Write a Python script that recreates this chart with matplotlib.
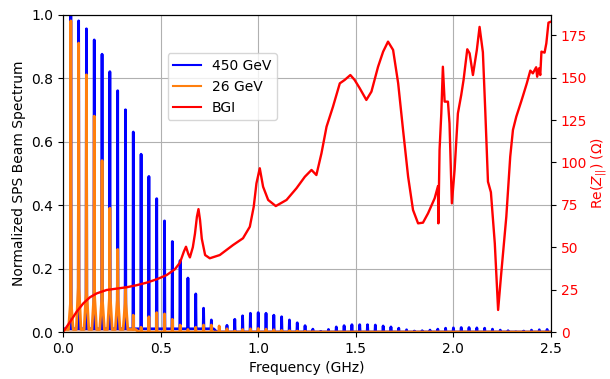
import numpy as np
import matplotlib
matplotlib.use("Agg")
import matplotlib.pyplot as plt
from matplotlib.lines import Line2D

# beam spectrum lines every 40 MHz (harmonics 1..62)
harmonic = np.arange(1, 63)
f_rf = 0.04  # GHz

spec_450 = [1.00, 0.98, 0.955, 0.92, 0.875, 0.82, 0.76, 0.70, 0.63, 0.56,
            0.49, 0.42, 0.35, 0.285, 0.225, 0.17, 0.12, 0.075, 0.038, 0.005,
            0.021, 0.040, 0.051, 0.059, 0.061, 0.059, 0.053, 0.048, 0.038, 0.029,
            0.020, 0.009, 0.002, 0.008, 0.016, 0.020, 0.023, 0.023, 0.023, 0.022,
            0.019, 0.016, 0.012, 0.007, 0.003, 0.004, 0.006, 0.009, 0.012, 0.013,
            0.014, 0.014, 0.013, 0.012, 0.009, 0.006, 0.004, 0.001, 0.003, 0.006,
            0.007, 0.008]

spec_26 = [0.98, 0.91, 0.81, 0.68, 0.54, 0.39, 0.26, 0.14, 0.053, 0.015,
           0.048, 0.061, 0.057, 0.040, 0.022, 0.008, 0.015, 0.022, 0.022, 0.019,
           0.010, 0.003, 0.008, 0.010, 0.011, 0.009, 0.007, 0.005, 0.004, 0.003,
           0.002, 0.001] + [0.0] * 30

# broad pale skirts under the first 26 GeV lines
skirt_26 = [0.09, 0.14, 0.12, 0.11, 0.10, 0.11, 0.10, 0.09]

bgi_freq = [0.000, 0.037, 0.070, 0.104, 0.138, 0.173, 0.224, 0.275, 0.326, 0.377,
            0.428, 0.480, 0.531, 0.573, 0.599, 0.619, 0.630, 0.642, 0.650, 0.665,
            0.676, 0.686, 0.694, 0.702, 0.711, 0.728, 0.752, 0.803, 0.871, 0.922,
            0.957, 0.977, 0.991, 1.008, 1.025, 1.051, 1.090, 1.145, 1.196, 1.239,
            1.273, 1.298, 1.324, 1.350, 1.383, 1.418, 1.443, 1.472, 1.494, 1.520,
            1.554, 1.580, 1.614, 1.640, 1.665, 1.691, 1.717, 1.742, 1.768, 1.793,
            1.819, 1.844, 1.870, 1.904, 1.921, 1.923, 1.929, 1.938, 1.946, 1.955,
            1.972, 1.980, 1.992, 2.006, 2.023, 2.040, 2.052, 2.071, 2.083, 2.100,
            2.120, 2.134, 2.151, 2.163, 2.177, 2.192, 2.212, 2.229, 2.245, 2.271,
            2.291, 2.305, 2.322, 2.347, 2.356, 2.376, 2.394, 2.407, 2.424, 2.429,
            2.438, 2.445, 2.451, 2.467, 2.476, 2.487, 2.500]
bgi_re = [0.0, 6.1, 12.0, 16.9, 20.5, 22.8, 24.8, 25.6, 26.4, 27.6,
          29.1, 31.1, 33.6, 37.0, 40.9, 47.4, 50.3, 46.0, 44.0, 50.0,
          58.0, 68.0, 72.5, 66.0, 55.0, 45.4, 43.5, 45.4, 51.3, 55.3,
          62.1, 73.9, 87.7, 96.6, 85.7, 77.9, 74.3, 77.9, 84.8, 91.6,
          95.6, 92.6, 105.4, 121.1, 132.9, 146.7, 148.7, 151.6, 148.7, 143.8,
          136.9, 141.8, 156.5, 165.4, 171.3, 166.4, 146.7, 119.2, 91.6, 72.0,
          64.1, 64.5, 70.0, 78.9, 86.1, 64.1, 107.4, 129.0, 156.5, 135.9,
          135.9, 123.1, 75.9, 95.6, 129.0, 139.8, 148.7, 166.8, 164.4, 151.6,
          166.4, 180.0, 165.0, 131.0, 88.7, 82.5, 52.3, 13.0, 34.6, 68.0,
          103.4, 119.2, 127.0, 135.9, 139.2, 146.7, 154.2, 152.6, 156.2, 150.6,
          155.5, 151.6, 165.4, 164.8, 170.3, 182.5, 183.1]


def spectrum_path(freqs, peaks, floor, skirt=None):
    xs, ys = [0.0], [floor[0]]
    for i, (f, h) in enumerate(zip(freqs, peaks)):
        s = skirt[i] if skirt is not None and i < len(skirt) else floor[i]
        xs += [f - 0.012, f - 0.002, f, f + 0.002, f + 0.012]
        ys += [floor[i], s, h, s, floor[i]]
    return np.array(xs), np.array(ys)


freqs = harmonic * f_rf
floor_450 = np.where(freqs < 0.8, 0.010, 0.0)
floor_26 = np.where(freqs < 0.4, 0.008, 0.0)

fig = plt.figure(figsize=(6.1, 3.79), dpi=100)
ax = fig.add_axes([0.1033, 0.124, 0.8, 0.8377])
ax2 = ax.twinx()

x450, y450 = spectrum_path(freqs, spec_450, floor_450)
x26, y26 = spectrum_path(freqs, spec_26, floor_26, skirt_26)

ax.plot(x450, y450, color='blue', lw=2)
ax.fill_between(x26, y26, color='#ff7f0e', alpha=0.35, lw=0)
ax.plot(x26, y26, color='#ff7f0e', lw=2)

ax2.plot(bgi_freq, bgi_re, color='red', lw=1.7)

ax.set_xlim(0, 2.5)
ax.set_ylim(0, 1.0)
ax2.set_ylim(0, 187.3)
ax.set_xlabel("Frequency (GHz)")
ax.set_ylabel("Normalized SPS Beam Spectrum")
ax2.set_ylabel(r"Re($Z_{||}$) ($\Omega$)", color='red', labelpad=2)
ax2.tick_params(axis='y', labelcolor='red')
ax.grid()

handles = [Line2D([], [], color='blue', lw=1.5),
           Line2D([], [], color='#ff7f0e', lw=1.5),
           Line2D([], [], color='red', lw=1.5)]
ax2.legend(handles, ['450 GeV', '26 GeV', 'BGI'], loc='upper left',
           bbox_to_anchor=(0.2, 0.9))

fig.savefig("out.png", dpi=100)
